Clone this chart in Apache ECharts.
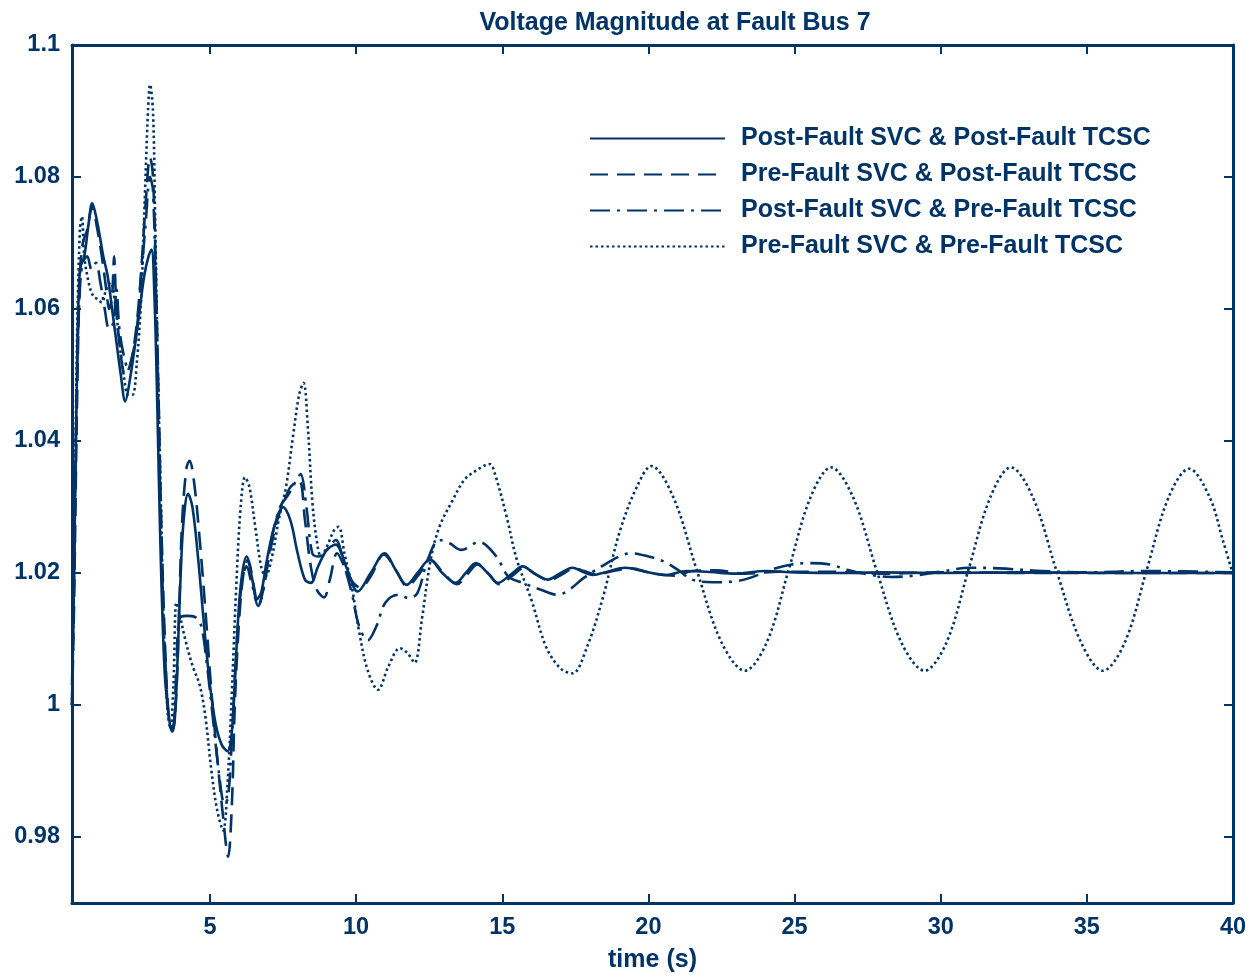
<!DOCTYPE html>
<html>
<head>
<meta charset="utf-8">
<script src="https://cdn.jsdelivr.net/npm/echarts@6/dist/echarts.min.js"></script>
<style>
  html, body { margin: 0; padding: 0; background: #fff; }
  #chart { width: 1253px; height: 975px; }
</style>
</head>
<body>
<div id="chart"></div>
<script>
// series names (legend order)
var seriesNames = [
    "Post-Fault SVC & Post-Fault TCSC",
    "Pre-Fault SVC & Post-Fault TCSC",
    "Post-Fault SVC & Pre-Fault TCSC",
    "Pre-Fault SVC & Pre-Fault TCSC"
];

// tick values
var xTicks = [5, 10, 15, 20, 25, 30, 35, 40];
var yTicks = [0.98, 1, 1.02, 1.04, 1.06, 1.08, 1.1];

// [time (s), voltage (pu)]
var postSvcPostTcsc = [
    [0.28,1.003],[0.35,1.02],[0.45,1.05],[0.55,1.066],[0.7,1.068],[0.85,1.073],[0.97,1.076],
    [1.15,1.073],[1.35,1.068],[1.5,1.065],[1.65,1.06],[1.8,1.055],[1.95,1.05],[2.1,1.046],
    [2.25,1.049],[2.45,1.055],[2.6,1.06],[2.75,1.065],[2.9,1.068],[3.0,1.069],[3.1,1.062],
    [3.2,1.045],[3.3,1.025],[3.45,1.005],[3.6,0.998],[3.7,0.996],[3.8,0.998],[3.9,1.008],
    [4.0,1.02],[4.1,1.028],[4.25,1.032],[4.4,1.03],[4.6,1.022],[4.8,1.012],[5.0,1.003],
    [5.2,0.997],[5.4,0.994],[5.6,0.993],[5.75,0.996],[5.9,1.008],[6.05,1.018],[6.25,1.0225],
    [6.45,1.019],[6.6,1.016],[6.75,1.017],[6.95,1.022],[7.2,1.027],[7.5,1.030],[7.75,1.028],
    [8.0,1.023],[8.25,1.019],[8.45,1.0185],[8.7,1.021],[9.0,1.0235],[9.3,1.0243],[9.7,1.0205],
    [10.05,1.0172],[10.5,1.02],[10.98,1.023],[11.35,1.0205],[11.73,1.0182],[12.1,1.02],
    [12.52,1.022],[12.95,1.02],[13.4,1.0185],[13.75,1.02],[14.1,1.0215],[14.5,1.02],
    [14.85,1.0185],[15.3,1.0198],[15.7,1.021],[16.1,1.0199],[16.55,1.019],[17.0,1.02],
    [17.4,1.0208],[17.75,1.0202],[18.1,1.0197],[18.6,1.0202],[19.2,1.0208],[19.9,1.0202],
    [20.6,1.0197],[21.3,1.0203],[22.0,1.0202],[23.0,1.0199],[24.0,1.0203],[25.0,1.0201],
    [26.5,1.02],[28,1.0201],[30,1.02],[33,1.0201],[36,1.02],[40,1.02]
];

var preSvcPostTcsc = [
    [0.28,1.0],[0.35,1.015],[0.45,1.045],[0.55,1.065],[0.65,1.07],[0.8,1.072],[0.97,1.0755],
    [1.15,1.072],[1.3,1.068],[1.45,1.063],[1.55,1.06],[1.65,1.062],[1.72,1.068],[1.8,1.06],
    [1.95,1.053],[2.1,1.05],[2.3,1.052],[2.5,1.058],[2.65,1.066],[2.8,1.076],[2.95,1.083],
    [3.05,1.08],[3.15,1.065],[3.25,1.045],[3.35,1.025],[3.5,1.005],[3.62,0.997],[3.72,0.996],
    [3.85,1.002],[3.95,1.015],[4.05,1.028],[4.2,1.036],[4.3,1.037],[4.45,1.034],[4.65,1.025],
    [4.85,1.014],[5.05,1.002],[5.25,0.992],[5.45,0.983],[5.62,0.977],[5.75,0.985],[5.85,1.0],
    [6.0,1.013],[6.15,1.02],[6.3,1.022],[6.5,1.018],[6.65,1.015],[6.8,1.017],[7.0,1.022],
    [7.3,1.028],[7.55,1.031],[7.75,1.033],[8.05,1.034],[8.25,1.028],[8.45,1.021],[8.65,1.0175],
    [8.9,1.0163],[9.1,1.019],[9.35,1.023],[9.6,1.021],[9.9,1.0185],[10.15,1.0178],[10.5,1.0195],
    [10.95,1.0228],[11.35,1.0205],[11.75,1.018],[12.15,1.0198],[12.55,1.022],[12.95,1.0202],
    [13.45,1.0183],[13.8,1.0198],[14.15,1.0213],[14.55,1.0198],[14.9,1.0183],[15.35,1.0196],
    [15.75,1.0208],[16.15,1.0198],[16.6,1.0189],[17.05,1.0198],[17.45,1.0207],[17.8,1.0203],
    [18.2,1.0198],[18.8,1.0203],[19.4,1.0207],[20.1,1.02],[20.9,1.0196],[21.5,1.0203],
    [22.3,1.0204],[23.3,1.0199],[24.5,1.0202],[26,1.0202],[28,1.0199],[30,1.0201],
    [33,1.02],[36,1.02],[40,1.02]
];

var postSvcPreTcsc = [
    [0.28,1.0],[0.35,1.02],[0.45,1.05],[0.55,1.063],[0.65,1.067],[0.8,1.068],[0.95,1.066],
    [1.1,1.067],[1.25,1.064],[1.4,1.06],[1.55,1.057],[1.7,1.058],[1.8,1.063],[1.9,1.057],
    [2.05,1.053],[2.2,1.051],[2.35,1.053],[2.5,1.057],[2.65,1.065],[2.8,1.073],[2.95,1.08],
    [3.05,1.078],[3.15,1.062],[3.25,1.042],[3.35,1.022],[3.5,1.004],[3.62,0.997],[3.72,0.9965],
    [3.85,1.005],[3.95,1.013],[4.2,1.0135],[4.5,1.0133],[4.7,1.012],[4.9,1.006],[5.1,0.998],
    [5.3,0.99],[5.5,0.985],[5.62,0.986],[5.75,0.995],[5.9,1.008],[6.05,1.017],[6.25,1.021],
    [6.45,1.018],[6.65,1.015],[6.85,1.018],[7.1,1.025],[7.4,1.03],[7.7,1.032],[7.95,1.034],
    [8.1,1.035],[8.3,1.03],[8.5,1.023],[8.7,1.0225],[9.0,1.0235],[9.3,1.025],[9.6,1.021],
    [9.85,1.017],[10.1,1.012],[10.4,1.0098],[10.7,1.012],[11.0,1.0155],[11.45,1.0167],
    [11.8,1.0162],[12.1,1.017],[12.45,1.022],[12.85,1.025],[13.2,1.0245],[13.6,1.0235],
    [14.2,1.0247],[14.8,1.0225],[15.2,1.0195],[15.7,1.0185],[16.3,1.0175],[16.9,1.0167],
    [17.3,1.0175],[17.8,1.0193],[18.4,1.021],[19.0,1.0225],[19.4,1.023],[20.0,1.0225],
    [20.5,1.0218],[21.0,1.0205],[21.5,1.019],[22.2,1.0186],[22.9,1.0187],[23.5,1.0193],
    [24.2,1.0205],[24.9,1.0213],[25.5,1.0215],[26.2,1.0213],[26.8,1.0205],[27.5,1.0198],
    [28.3,1.0194],[29.1,1.0196],[30.0,1.0202],[31.0,1.0208],[32.0,1.0207],[33.5,1.0203],
    [35,1.0201],[37,1.0203],[40,1.0201]
];

var preSvcPreTcsc = [
    [0.28,1.0],[0.35,1.02],[0.45,1.055],[0.55,1.072],[0.62,1.074],[0.7,1.068],[0.85,1.064],
    [1.0,1.062],[1.15,1.0615],[1.3,1.061],[1.45,1.063],[1.6,1.064],[1.75,1.061],[1.9,1.055],
    [2.05,1.05],[2.2,1.047],[2.35,1.047],[2.5,1.052],[2.65,1.062],[2.78,1.078],[2.88,1.09],
    [2.95,1.094],[3.05,1.09],[3.12,1.075],[3.2,1.055],[3.3,1.035],[3.42,1.012],[3.55,0.999],
    [3.65,0.9965],[3.75,1.003],[3.85,1.0155],[3.95,1.014],[4.15,1.01],[4.4,1.006],[4.65,1.003],
    [4.85,0.998],[5.05,0.99],[5.25,0.984],[5.45,0.981],[5.6,0.988],[5.75,1.002],[5.9,1.018],
    [6.05,1.03],[6.2,1.0345],[6.35,1.033],[6.55,1.027],[6.75,1.021],[6.9,1.0195],[7.1,1.022],
    [7.35,1.028],[7.6,1.033],[7.85,1.041],[8.05,1.047],[8.2,1.0488],[8.35,1.042],[8.5,1.031],
    [8.65,1.025],[8.8,1.0225],[9.0,1.024],[9.25,1.0265],[9.4,1.027],[9.6,1.023],[9.85,1.018],
    [10.1,1.0112],[10.4,1.0052],[10.75,1.0023],[11.1,1.0058],[11.5,1.0086],[11.75,1.0079],
    [12.0,1.0064],[12.25,1.013],[12.55,1.022],[12.85,1.027],[13.3,1.031],[13.7,1.0341],
    [14.1,1.0355],[14.57,1.0365],[14.75,1.035],[15.15,1.0285],[15.5,1.022],[16.0,1.0159],
    [16.5,1.0088],[17.0,1.0055],[17.4,1.0048],[17.9,1.0088],[18.45,1.0164],[19.0,1.026],
    [19.6,1.033],[20.1,1.0362],[20.85,1.0315],[21.65,1.0205],[22.5,1.0095],[23.3,1.0052],
    [24.05,1.0095],[24.8,1.0205],[25.55,1.0315],[26.25,1.036],[27.0,1.0315],[27.8,1.0205],
    [28.65,1.0095],[29.45,1.0052],[30.2,1.0095],[30.95,1.0205],[31.7,1.0315],[32.4,1.036],
    [33.15,1.0315],[33.95,1.0205],[34.8,1.0095],[35.55,1.0052],[36.3,1.0095],[37.05,1.0205],
    [37.8,1.0315],[38.5,1.0358],[39.2,1.0315],[39.65,1.025],[40,1.0198]
];

var navy = "#003366";
var font = "'Liberation Sans', Arial, sans-serif";

var chart = echarts.init(document.getElementById("chart"));

function lineSeries(name, data, type, width) {
    return {
        name: name,
        type: "line",
        data: data,
        symbol: "none",
        smooth: 0.35,
        xAxisIndex: 0,
        yAxisIndex: 0,
        lineStyle: { color: navy, width: width, type: type, cap: "butt" },
        itemStyle: { color: navy }
    };
}

function axisBase(extra) {
    var base = {
        axisLine: { show: true, onZero: false, lineStyle: { color: navy, width: 3 } },
        axisTick: { show: true, inside: true, length: 9, lineStyle: { color: navy, width: 2 } },
        splitLine: { show: false }
    };
    for (var k in extra) base[k] = extra[k];
    return base;
}

var labelStyle = { color: navy, fontFamily: font, fontWeight: "bold", fontSize: 23.5 };

var option = {
    animation: false,
    backgroundColor: "#fff",
    title: {
        text: "Voltage Magnitude at Fault Bus 7",
        left: 670,
        textAlign: "center",
        top: 6,
        textStyle: { color: navy, fontFamily: font, fontWeight: "bold", fontSize: 25 }
    },
    grid: { left: 72, right: 20, top: 45, bottom: 72, containLabel: false, outerBoundsMode: "none" },
    legend: {
        orient: "vertical",
        left: 584,
        top: 121,
        itemWidth: 135,
        itemHeight: 14,
        itemGap: 11,
        itemStyle: { color: "transparent", borderWidth: 0, opacity: 0 },
        textStyle: {
            color: navy, fontFamily: font, fontWeight: "bold", fontSize: 25,
            lineHeight: 24, padding: [0, 0, 0, 11]
        },
        data: seriesNames
    },
    xAxis: [
        axisBase({
            type: "value", min: 0.28, max: 40, position: "bottom",
            axisTick: { show: true, inside: true, length: 9, customValues: xTicks,
                lineStyle: { color: navy, width: 2 } },
            axisLabel: Object.assign({ margin: 13, customValues: xTicks,
                formatter: function (v) { return String(v); } }, labelStyle),
            name: "time (s)",
            nameLocation: "middle",
            nameGap: 45,
            nameTextStyle: Object.assign({}, labelStyle, { fontSize: 25 })
        }),
        axisBase({
            type: "value", min: 0.28, max: 40, position: "top",
            axisTick: { show: true, inside: true, length: 9, customValues: xTicks,
                lineStyle: { color: navy, width: 2 } },
            axisLabel: { show: false }
        })
    ],
    yAxis: [
        axisBase({
            type: "value", min: 0.97, max: 1.1, position: "left",
            axisTick: { show: true, inside: true, length: 9, customValues: yTicks,
                lineStyle: { color: navy, width: 2 } },
            axisLabel: Object.assign({ margin: 12, customValues: yTicks,
                formatter: function (v) { return String(parseFloat(v.toFixed(2))); } }, labelStyle)
        }),
        axisBase({
            type: "value", min: 0.97, max: 1.1, position: "right",
            axisTick: { show: true, inside: true, length: 9, customValues: yTicks,
                lineStyle: { color: navy, width: 2 } },
            axisLabel: { show: false }
        })
    ],
    series: [
        lineSeries(seriesNames[0], postSvcPostTcsc, "solid", 2.6),
        lineSeries(seriesNames[1], preSvcPostTcsc, [18, 9], 2.6),
        lineSeries(seriesNames[2], postSvcPreTcsc, [20, 7, 3, 7], 2.6),
        lineSeries(seriesNames[3], preSvcPreTcsc, [2.5, 3], 2.6)
    ]
};

chart.setOption(option);
</script>
</body>
</html>
